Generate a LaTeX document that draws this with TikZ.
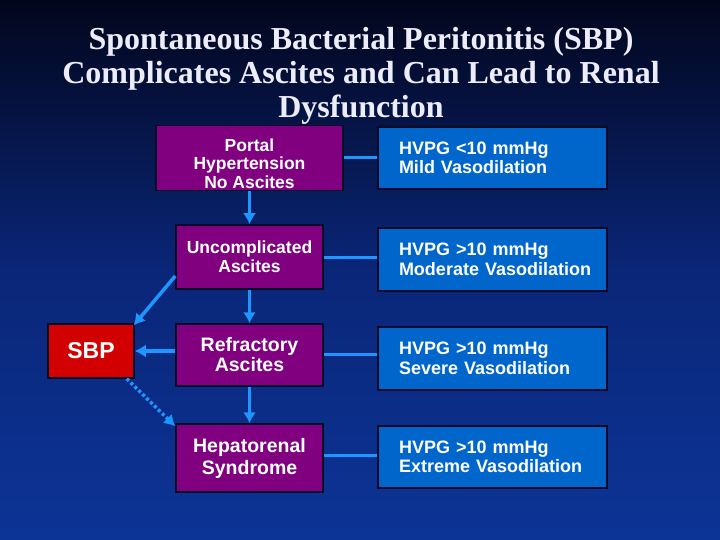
\documentclass[tikz,border=0pt]{standalone}
\usepackage{fontspec}
\setmainfont{Liberation Serif}
\setsansfont{Liberation Sans}
\usetikzlibrary{arrows.meta,positioning,calc}
\definecolor{slidetop}{RGB}{2,6,28}
\definecolor{slidemid}{RGB}{10,38,120}
\definecolor{slidebot}{RGB}{12,52,150}
\definecolor{stagepurple}{RGB}{128,0,128}
\definecolor{sbpred}{RGB}{210,0,0}
\definecolor{hvpgblue}{RGB}{0,102,204}
\definecolor{flowblue}{RGB}{30,150,255}
\definecolor{edgedark}{RGB}{10,10,40}
\definecolor{titlewhite}{RGB}{236,236,250}

\begin{document}
\begin{tikzpicture}[x=1pt, y=-1pt,
    stage/.style={draw=edgedark, line width=1.5pt, fill=stagepurple, text=white,
                  font=\sffamily\bfseries, align=center, inner sep=2pt},
    hvpg/.style={draw=edgedark, line width=1.5pt, fill=hvpgblue, text=white,
                 font=\sffamily\bfseries\fontsize{18}{19.5}\selectfont,
                 minimum width=229pt, minimum height=62pt,
                 text width=187pt, align=left, inner sep=0pt},
    flow/.style={flowblue, line width=3.5pt, -{Latex[length=11pt,width=13pt]}},
    link/.style={flowblue, line width=3pt}
]

% Background
\shade[top color=slidetop, bottom color=slidebot, middle color=slidemid]
  (0,0) rectangle (720,540);
\useasboundingbox (0,0) rectangle (720,540);

% Title
\node[text=titlewhite, font=\bfseries\fontsize{32}{34}\selectfont, align=center, anchor=north]
  (title) at (361,24) {Spontaneous Bacterial Peritonitis (SBP)\\
  Complicates Ascites and Can Lead to Renal\\ Dysfunction};

% Stages of ascites
\node[stage, minimum width=187pt, minimum height=62pt,
      font=\sffamily\bfseries\fontsize{17.5}{18.5}\selectfont]
  (portal) at (249.5,158) {\rule{0pt}{24pt}Portal\\ Hypertension\\ No Ascites};
\node[stage, minimum width=147pt, minimum height=64pt,
      font=\sffamily\bfseries\fontsize{17.5}{19}\selectfont]
  (uncomp) at (249.5,257) {Uncomplicated\\ Ascites};
\node[stage, minimum width=147pt, minimum height=62pt,
      font=\sffamily\bfseries\fontsize{19.5}{20}\selectfont]
  (refract) at (249.5,355) {Refractory\\ Ascites};
\node[stage, minimum width=147pt, minimum height=68pt,
      font=\sffamily\bfseries\fontsize{19.5}{22}\selectfont]
  (hrs) at (249.5,458) {Hepatorenal\\ Syndrome};

% SBP
\node[stage, fill=sbpred, minimum width=86pt, minimum height=54pt,
      font=\sffamily\bfseries\fontsize{23}{25}\selectfont]
  (sbp) at (91,351) {SBP};

% Haemodynamics
\node[hvpg] (hv1) at (492.5,158) {HVPG <10 mmHg\\ \mbox{Mild Vasodilation}};
\node[hvpg, minimum height=63pt] (hv2) at (492.5,259.5) {HVPG >10 mmHg\\ \mbox{Moderate Vasodilation}};
\node[hvpg, minimum height=63pt] (hv3) at (492.5,358.5) {HVPG >10 mmHg\\ \mbox{Severe Vasodilation}};
\node[hvpg] (hv4) at (492.5,457) {HVPG >10 mmHg\\ \mbox{Extreme Vasodilation}};

% Progression
\draw[flow] (portal) -- (uncomp);
\draw[flow] (uncomp) -- (refract);
\draw[flow] (refract) -- (hrs);
\draw[flow] ([yshift=-19pt]uncomp.west) -- ([shift={(-1pt,-2pt)}]sbp.north east);
\draw[flow] ([yshift=4pt]refract.west) -- ([yshift=4pt]refract.west -| sbp.east);
\draw[flow, dash pattern=on 3pt off 2.5pt] ([xshift=-8pt]sbp.south east) -- ([yshift=-3pt]hrs.north west);

% Links to HVPG
\draw[link] (portal.east) -- (portal.east -| hv1.west);
\draw[link] (uncomp.east) -- (uncomp.east -| hv2.west);
\draw[link] ([yshift=1pt]refract.east) -- ([yshift=1pt]refract.east -| hv3.west);
\draw[link] ([yshift=3pt]hrs.east) -- ([yshift=3pt]hrs.east -| hv4.west);

\end{tikzpicture}
\end{document}
